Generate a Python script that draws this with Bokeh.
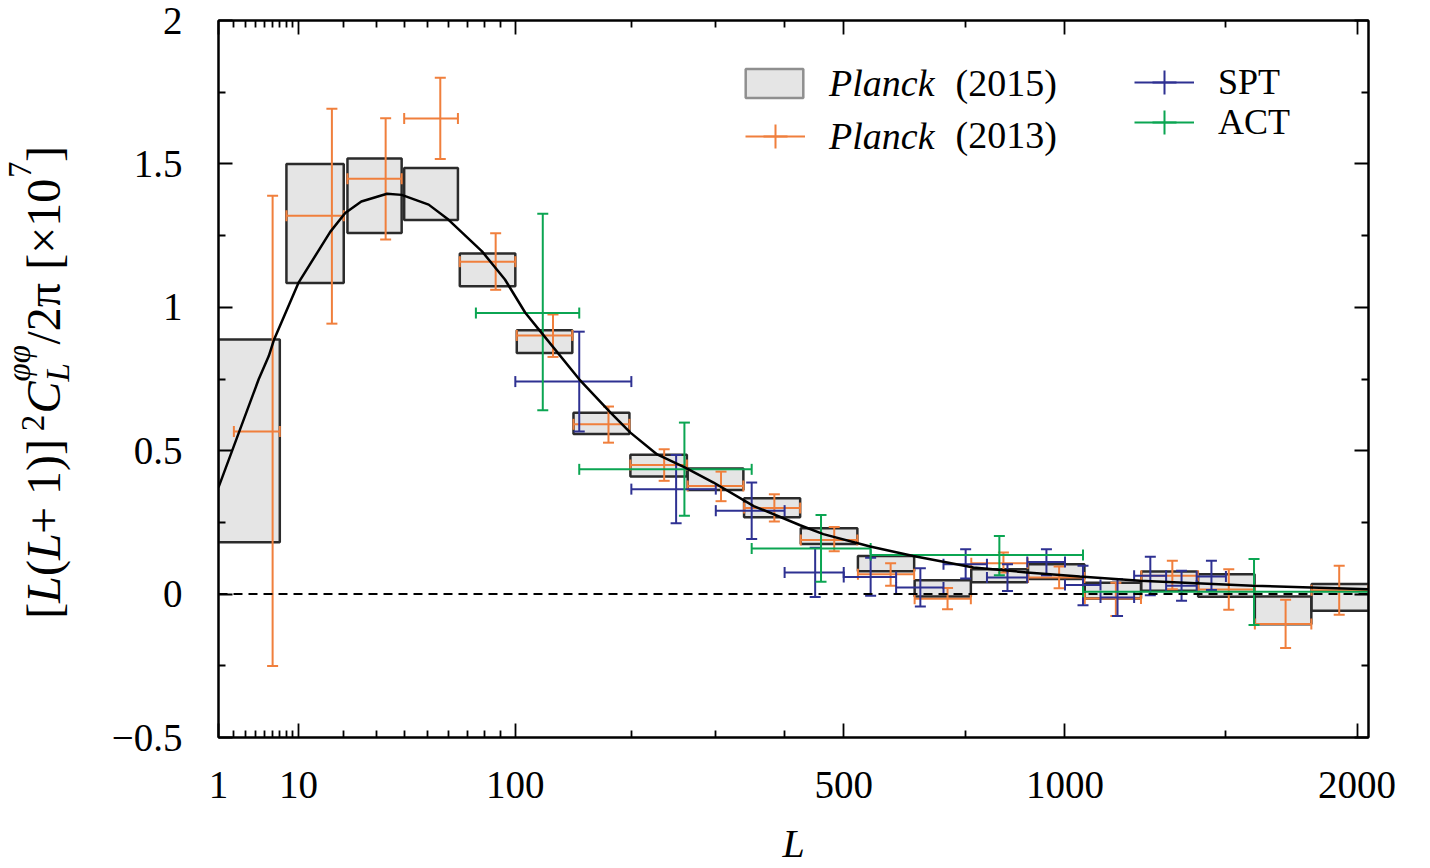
import numpy as np
from bokeh.plotting import figure
from bokeh.layouts import row
from bokeh.models import (Range1d, FixedTicker, LinearAxis, Span, Legend, LegendItem,
                          Label, ColumnDataSource, CustomJSTickFormatter)
from bokeh.core.properties import value
from bokeh.embed import file_html
from bokeh.resources import INLINE

# ---------------- data ----------------
# Planck 2015 bandpowers (grey boxes): bin edges in L and 1-sigma band
p15_lmin = [1, 8, 21, 40, 66, 101, 145, 199, 264, 339, 426, 526, 638, 763, 902, 1055, 1222, 1405, 1603, 1817]
p15_lmax = [7, 20, 39, 65, 100, 144, 198, 263, 338, 425, 525, 637, 762, 901, 1054, 1221, 1404, 1602, 1816, 2048]
p15_low = [0.181, 1.085, 1.259, 1.304, 1.073, 0.841, 0.558, 0.410, 0.363, 0.268, 0.175, 0.080,
           -0.008, 0.041, 0.053, -0.015, 0.012, -0.009, -0.105, -0.058]
p15_high = [0.888, 1.500, 1.519, 1.486, 1.188, 0.920, 0.632, 0.486, 0.438, 0.334, 0.230, 0.133,
            0.048, 0.087, 0.104, 0.040, 0.079, 0.069, -0.008, 0.035]

# Planck 2013
p13_L = [6, 17, 33, 56, 87, 128, 177, 236, 307, 384, 483, 589, 709, 840, 984, 1145, 1320, 1510, 1717, 1927]
p13_lmin = [2, 8, 21, 40, 66, 101, 145, 199, 264, 339, 426, 526, 638, 763, 902, 1055, 1222, 1405, 1603, 1817]
p13_lmax = [7, 20, 39, 65, 100, 144, 198, 263, 338, 425, 525, 637, 762, 901, 1054, 1221, 1404, 1602, 1816, 2048]
p13_val = [0.567, 1.319, 1.448, 1.658, 1.159, 0.902, 0.592, 0.450, 0.377, 0.300, 0.189, 0.069,
           -0.016, 0.108, 0.058, -0.015, 0.064, 0.016, -0.104, 0.013]
p13_low = [-0.251, 0.943, 1.236, 1.517, 1.061, 0.827, 0.528, 0.395, 0.324, 0.253, 0.149, 0.029,
           -0.053, 0.075, 0.020, -0.076, 0.017, -0.055, -0.188, -0.072]
p13_high = [1.389, 1.692, 1.659, 1.800, 1.258, 0.975, 0.654, 0.505, 0.427, 0.348, 0.234, 0.108,
            0.021, 0.145, 0.096, 0.040, 0.116, 0.087, -0.020, 0.099]

# SPT
spt_L = [150, 250, 350, 450, 550, 650, 750, 850, 950, 1050, 1150, 1250, 1350, 1450]
spt_lmin = [100, 200, 300, 400, 500, 600, 700, 800, 900, 1000, 1100, 1200, 1300, 1400]
spt_lmax = [200, 300, 400, 500, 600, 700, 800, 900, 1000, 1100, 1200, 1300, 1400, 1500]
spt_val = [0.741, 0.366, 0.291, 0.075, 0.060, 0.023, 0.104, 0.058, 0.112, 0.032, -0.012, 0.064, 0.029, 0.061]
spt_low = [0.567, 0.247, 0.192, -0.010, -0.006, -0.043, 0.054, 0.011, 0.066, -0.039, -0.076, -0.004, -0.023, 0.014]
spt_high = [0.915, 0.485, 0.389, 0.162, 0.127, 0.090, 0.156, 0.104, 0.156, 0.099, 0.052, 0.130, 0.081, 0.116]

# ACT
act_L = [120, 260, 460, 830, 1600]
act_lmin = [75, 150, 350, 550, 1050]
act_lmax = [150, 350, 550, 1050, 2050]
act_val = [0.980, 0.435, 0.159, 0.136, 0.008]
act_low = [0.641, 0.273, 0.043, 0.066, -0.108]
act_high = [1.326, 0.598, 0.276, 0.203, 0.122]

# fiducial theory curve
theory_L = [1, 4.3, 5.5, 6.2, 10, 16.6, 20.4, 25, 33.5, 39, 50.5, 60, 78.6, 93, 107, 118, 150, 179,
            199, 228, 261, 297, 353, 425, 464, 549, 635, 768, 899, 1041, 1218, 1595, 2048]
theory_val = [0.372, 0.749, 0.830, 0.888, 1.085, 1.263, 1.329, 1.369, 1.396, 1.392, 1.358, 1.306,
              1.195, 1.097, 0.981, 0.917, 0.749, 0.633, 0.563, 0.487, 0.441, 0.389, 0.307, 0.240,
              0.209, 0.166, 0.133, 0.093, 0.0755, 0.0613, 0.0463, 0.029, 0.017]

# axes
x_tick_L = [1, 10, 100, 500, 1000, 2000]
x_tick_labels = ["1", "10", "100", "500", "1000", "2000"]
x_minor_L = [2, 3, 4, 5, 6, 7, 8, 9, 20, 30, 40, 50, 60, 70, 80, 90, 200, 300, 400, 750, 1500]
x_limits_L = [1, 2048]
y_ticks = [-0.5, 0, 0.5, 1, 1.5, 2]
y_tick_labels = ["\u22120.5", "0", "0.5", "1", "1.5", "2"]
y_minor = [-0.25, 0.25, 0.75, 1.25, 1.75]

# ---------------- style ----------------
SERIF = "Liberation Serif"
ORANGE = "#f07f3c"
BLUE = "#2e3192"
GREEN = "#0ba552"
BOX_FILL = "#e5e5e5"
BOX_LINE = "#2b2b2b"
H = 868          # page height used
LAB_W = 80       # width of the strip holding the y-axis title
FL, FT, FW, FH = 218, 20, 1150, 719   # frame left/top/width/height on the page
FB = FT + FH
LEG_FONT_P = "38px"
LEG_FONT_E = "36px"


def lscale(L):
    """Horizontal axis is scaled as (L + 1/2)^0.4."""
    return (np.asarray(L, dtype=float) + 0.5) ** 0.4


x0, x1 = lscale(x_limits_L)
main_w = 1350
p = figure(width=main_w, height=H, x_range=Range1d(float(x0), float(x1)),
           y_range=Range1d(-0.5, 2.0), output_backend="svg", toolbar_location=None,
           min_border_left=FL - LAB_W, min_border_right=main_w - (FL - LAB_W) - FW,
           min_border_top=FT, min_border_bottom=H - FB)
p.xgrid.visible = False
p.ygrid.visible = False
p.outline_line_color = "black"
p.outline_line_width = 2
p.background_fill_color = "white"
p.border_fill_color = "white"

xt = [float(v) for v in lscale(x_tick_L)]
x_ticker = FixedTicker(ticks=xt, minor_ticks=[float(v) for v in lscale(x_minor_L)])
y_ticker = FixedTicker(ticks=y_ticks, minor_ticks=y_minor)

fmt_code = """
for (let i = 0; i < tvals.length; i++) {
  if (Math.abs(tvals[i] - tick) < 1e-6) { return tlabels[i]; }
}
return '';
"""
x_fmt = CustomJSTickFormatter(args=dict(tvals=xt, tlabels=x_tick_labels), code=fmt_code)
y_fmt = CustomJSTickFormatter(args=dict(tvals=[float(v) for v in y_ticks], tlabels=y_tick_labels), code=fmt_code)
blank_fmt = CustomJSTickFormatter(code="return '';")


def style_axis(ax, show_labels):
    ax.axis_line_width = 2
    ax.axis_line_color = "black"
    ax.major_tick_in = 14
    ax.major_tick_out = 0
    ax.minor_tick_in = 7
    ax.minor_tick_out = 0
    ax.major_tick_line_width = 1.8
    ax.minor_tick_line_width = 1.8
    ax.major_tick_line_color = "black"
    ax.minor_tick_line_color = "black"
    ax.major_label_text_font = SERIF
    ax.major_label_text_font_size = "39px"
    ax.major_label_text_color = "black"
    if not show_labels:
        ax.major_label_standoff = 0


p.xaxis.ticker = x_ticker
p.xaxis.formatter = x_fmt
style_axis(p.xaxis[0], True)
p.xaxis.major_label_standoff = 34
p.xaxis.axis_label = "L"
p.xaxis.axis_label_text_font = SERIF
p.xaxis.axis_label_text_font_size = "40px"
p.xaxis.axis_label_text_font_style = "italic"
p.xaxis.axis_label_text_color = "black"
p.xaxis.axis_label_standoff = 20

p.yaxis.ticker = y_ticker
p.yaxis.formatter = y_fmt
style_axis(p.yaxis[0], True)
p.yaxis.major_label_standoff = 36

top_ax = LinearAxis(ticker=x_ticker, formatter=blank_fmt)
style_axis(top_ax, False)
p.add_layout(top_ax, "above")
right_ax = LinearAxis(ticker=y_ticker, formatter=blank_fmt)
style_axis(right_ax, False)
p.add_layout(right_ax, "right")

# ---------------- Planck 2015 boxes ----------------
box_src = ColumnDataSource(dict(left=lscale(p15_lmin), right=lscale(p15_lmax), bottom=p15_low, top=p15_high))
p.quad(left="left", right="right", bottom="bottom", top="top", source=box_src,
       fill_color=BOX_FILL, line_color=BOX_LINE, line_width=2.5)


def errorbars(Lc, lmin, lmax, val, lo, hi, color):
    src = ColumnDataSource(dict(x=lscale(Lc), xl=lscale(lmin), xr=lscale(lmax), y=val, lo=lo, hi=hi))
    h = p.segment(x0="xl", y0="y", x1="xr", y1="y", source=src, line_color=color, line_width=2)
    p.segment(x0="x", y0="lo", x1="x", y1="hi", source=src, line_color=color, line_width=2)
    for yy in ("lo", "hi"):
        p.scatter(x="x", y=yy, source=src, marker="dash", size=11, line_color=color, line_width=2)
    for xx in ("xl", "xr"):
        p.scatter(x=xx, y="y", source=src, marker="dash", angle=np.pi / 2, size=11,
                  line_color=color, line_width=2)
    return h


r13 = errorbars(p13_L, p13_lmin, p13_lmax, p13_val, p13_low, p13_high, ORANGE)
rspt = errorbars(spt_L, spt_lmin, spt_lmax, spt_val, spt_low, spt_high, BLUE)
ract = errorbars(act_L, act_lmin, act_lmax, act_val, act_low, act_high, GREEN)

p.line(x=lscale(theory_L), y=theory_val, line_color="black", line_width=2.5)
p.add_layout(Span(location=0, dimension="width", line_color="black", line_width=2, line_dash="9 6"))

# ---------------- legends (sample glyphs hold NaN so they never show in the frame) ----------------
NA = [np.nan]
leg_box = p.quad(left=NA, right=NA, bottom=NA, top=NA, fill_color=BOX_FILL, line_color="#8f8f8f", line_width=2.5)
leg_v13 = p.scatter(x=NA, y=NA, marker="cross", size=20, line_color=ORANGE, line_width=2)
leg_vspt = p.scatter(x=NA, y=NA, marker="cross", size=20, line_color=BLUE, line_width=2)
leg_vact = p.scatter(x=NA, y=NA, marker="cross", size=20, line_color=GREEN, line_width=2)


def make_legend(label, renderers, loc, gw, gh, standoff, style, size):
    lg = Legend(items=[LegendItem(label=label, renderers=renderers)], location=loc,
                glyph_width=gw, glyph_height=gh, label_standoff=standoff,
                padding=0, margin=0, spacing=0, border_line_alpha=0, background_fill_alpha=0,
                label_text_font=SERIF, label_text_font_size=size, label_text_font_style=style,
                label_text_color="black")
    p.add_layout(lg)
    return lg


make_legend("Planck", [leg_box], (520, 632), 72, 36, 19, "italic", LEG_FONT_P)
make_legend("Planck", [r13, leg_v13], (527, 562), 60, 78, 24, "italic", LEG_FONT_P)
make_legend("SPT", [rspt, leg_vspt], (916, 616), 60, 78, 24, "normal", LEG_FONT_E)
make_legend("ACT", [ract, leg_vact], (916, 576), 60, 78, 24, "normal", LEG_FONT_E)

for txt, yb in (("(2015)", 655), ("(2013)", 603)):
    p.add_layout(Label(x=737, y=yb, x_units="screen", y_units="screen", text=txt,
                       text_font=SERIF, text_font_size=LEG_FONT_P, text_baseline="alphabetic",
                       text_color="black"))

# ---------------- y-axis title strip ----------------
# the strip's frame is aligned with the main frame (page rows FT..FB), so its y range uses page rows
yl = figure(width=LAB_W, height=H, x_range=Range1d(0, LAB_W), y_range=Range1d(H - FB, H - FT),
            output_backend="svg", toolbar_location=None, min_border=0,
            x_axis_location=None, y_axis_location=None)
yl.xgrid.visible = False
yl.ygrid.visible = False
yl.outline_line_color = None
yl.background_fill_color = "white"
yl.border_fill_color = "white"

# pieces of [L(L+1)]^2 C_L^{phi phi} / 2 pi [x 10^7]: (text, italic, size, page_y_start, page_x_center)
ylab = [("[", False, 48, 620, 43), ("L", True, 48, 604, 43), ("(", False, 48, 577, 43),
        ("L", True, 48, 561, 43), (" + 1)]", False, 48, 535, 43),
        ("2", False, 33, 432, 32), ("C", True, 48, 414, 43), ("L", True, 33, 382, 57),
        ("\u03c6\u03c6", True, 33, 382, 18), ("/2\u03c0", False, 48, 345, 43),
        ("[\u00d710", False, 48, 270, 43), ("7", False, 33, 178, 19), ("]", False, 48, 162, 43)]
for txt, ital, size, py, px in ylab:
    yl.text(x=[px], y=[H - py], text=[txt], angle=np.pi / 2, text_font=value(SERIF),
            text_font_size=value(f"{size}px"), text_font_style="italic" if ital else "normal",
            text_align="left", text_baseline="middle", text_color="black")

open("out.html", "w").write(file_html(row(yl, p), INLINE))
